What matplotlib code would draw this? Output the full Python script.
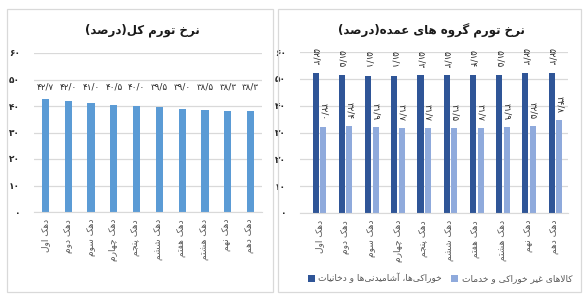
import matplotlib.pyplot as plt
from matplotlib.patches import Rectangle
import numpy as np

# داده ها
deciles = ["دهک اول", "دهک دوم", "دهک سوم", "دهک چهارم", "دهک پنجم",
           "دهک ششم", "دهک هفتم", "دهک هشتم", "دهک نهم", "دهک دهم"]
total_rate = [42.7, 42.0, 41.0, 40.5, 40.0, 39.5, 39.0, 38.5, 38.3, 38.3]
food_rate = [52.3, 51.5, 51.1, 51.1, 51.3, 51.3, 51.4, 51.5, 52.3, 52.3]
nonfood_rate = [32.0, 32.4, 31.9, 31.7, 31.7, 31.5, 31.7, 31.9, 32.5, 34.8]
yticks = [0, 10, 20, 30, 40, 50, 60]

title_left = "نرخ تورم کل(درصد)"
title_right = "نرخ تورم گروه های عمده(درصد)"
label_food = "خوراکی‌ها، آشامیدنی‌ها و دخانیات"
label_nonfood = "کالاهای غیر خوراکی و خدمات"

# شکل حروف: (جدا، پایانی، آغازی، میانی)
FORMS = {
    "ا": (0xFE8D, 0xFE8E), "آ": (0xFE81, 0xFE82),
    "ب": (0xFE8F, 0xFE90, 0xFE91, 0xFE92), "پ": (0xFB56, 0xFB57, 0xFB58, 0xFB59),
    "ت": (0xFE95, 0xFE96, 0xFE97, 0xFE98), "ث": (0xFE99, 0xFE9A, 0xFE9B, 0xFE9C),
    "ج": (0xFE9D, 0xFE9E, 0xFE9F, 0xFEA0), "چ": (0xFB7A, 0xFB7B, 0xFB7C, 0xFB7D),
    "ح": (0xFEA1, 0xFEA2, 0xFEA3, 0xFEA4), "خ": (0xFEA5, 0xFEA6, 0xFEA7, 0xFEA8),
    "د": (0xFEA9, 0xFEAA), "ذ": (0xFEAB, 0xFEAC), "ر": (0xFEAD, 0xFEAE),
    "ز": (0xFEAF, 0xFEB0), "ژ": (0xFB8A, 0xFB8B),
    "س": (0xFEB1, 0xFEB2, 0xFEB3, 0xFEB4), "ش": (0xFEB5, 0xFEB6, 0xFEB7, 0xFEB8),
    "ص": (0xFEB9, 0xFEBA, 0xFEBB, 0xFEBC), "ض": (0xFEBD, 0xFEBE, 0xFEBF, 0xFEC0),
    "ط": (0xFEC1, 0xFEC2, 0xFEC3, 0xFEC4), "ظ": (0xFEC5, 0xFEC6, 0xFEC7, 0xFEC8),
    "ع": (0xFEC9, 0xFECA, 0xFECB, 0xFECC), "غ": (0xFECD, 0xFECE, 0xFECF, 0xFED0),
    "ف": (0xFED1, 0xFED2, 0xFED3, 0xFED4), "ق": (0xFED5, 0xFED6, 0xFED7, 0xFED8),
    "ک": (0xFB8E, 0xFB8F, 0xFB90, 0xFB91), "گ": (0xFB92, 0xFB93, 0xFB94, 0xFB95),
    "ل": (0xFEDD, 0xFEDE, 0xFEDF, 0xFEE0), "م": (0xFEE1, 0xFEE2, 0xFEE3, 0xFEE4),
    "ن": (0xFEE5, 0xFEE6, 0xFEE7, 0xFEE8), "و": (0xFEED, 0xFEEE),
    "ه": (0xFEE9, 0xFEEA, 0xFEEB, 0xFEEC), "ی": (0xFBFC, 0xFBFD, 0xFBFE, 0xFBFF),
}
LAM_ALEF = {"ا": (0xFEFB, 0xFEFC), "آ": (0xFEF5, 0xFEF6)}
MIRROR = {"(": ")", ")": "("}


def fa(text):
    """اتصال حروف فارسی و برگرداندن ترتیب برای نمایش"""
    out = []
    i = 0
    n = len(text)
    while i < n:
        c = text[i]
        if c not in FORMS:
            if c != "\u200c":
                out.append(c)
            i += 1
            continue
        prev = text[i - 1] if i > 0 else ""
        prev_join = prev in FORMS and len(FORMS[prev]) == 4
        if c == "ل" and i + 1 < n and text[i + 1] in LAM_ALEF:
            out.append(chr(LAM_ALEF[text[i + 1]][1 if prev_join else 0]))
            i += 2
            continue
        nxt = text[i + 1] if i + 1 < n else ""
        next_join = len(FORMS[c]) == 4 and nxt in FORMS
        f = FORMS[c]
        if prev_join and next_join:
            out.append(chr(f[3]))
        elif prev_join:
            out.append(chr(f[1]))
        elif next_join:
            out.append(chr(f[2]))
        else:
            out.append(chr(f[0]))
        i += 1
    return "".join(MIRROR.get(ch, ch) for ch in reversed(out))


def fa_num(v, dec=True):
    s = f"{v:.1f}".replace(".", "/") if dec else str(v)
    return s.translate(str.maketrans("0123456789", "۰۱۲۳۴۵۶۷۸۹"))


plt.rcParams["font.family"] = ["DejaVu Sans"]

fig = plt.figure(figsize=(5.88, 3.0), dpi=100)
W, H = 588, 300


def box(x0, y0, x1, y1):
    return [x0 / W, 1 - y1 / H, (x1 - x0) / W, (y1 - y0) / H]


for b in (box(7, 9, 273, 292), box(278, 9, 581, 292)):
    fig.patches.append(Rectangle((b[0], b[1]), b[2], b[3], transform=fig.transFigure,
                                 fill=False, ec="#d9d9d9", lw=0.9))

grid_c = "#d9d9d9"
txt_c = "#595959"
val_c = "#262626"
x = np.arange(len(deciles))


def style(ax):
    for s in ["top", "right", "left"]:
        ax.spines[s].set_visible(False)
    ax.spines["bottom"].set_color(grid_c)
    ax.set_ylim(0, 60)
    ax.set_yticks(yticks)
    ax.set_yticklabels([fa_num(t, False) for t in yticks], fontsize=6.5,
                       color=val_c, fontweight="bold")
    ax.yaxis.grid(True, color=grid_c, lw=0.9)
    ax.set_axisbelow(True)
    ax.tick_params(length=0, pad=10)
    ax.set_xticks(x)
    ax.set_xticklabels([fa(d) for d in deciles], rotation=90, fontsize=6.5,
                       color=txt_c, va="top", ha="center")
    ax.tick_params(axis="x", pad=5)


# نمودار چپ
ax1 = fig.add_axes(box(34, 53, 262, 212))
ax1.bar(x, total_rate, width=0.31, color="#5b9bd5")
style(ax1)
ax1.set_xlim(-0.5, 9.5)
for xi, v in zip(x, total_rate):
    ax1.text(xi, 47, fa_num(v), ha="center", va="center", fontsize=6.3, color=val_c)
fig.text(142 / W, 1 - 30 / H, fa(title_left), ha="center", va="center",
         fontsize=8.5, fontweight="bold", color="#1a1a1a")

# نمودار راست
ax2 = fig.add_axes(box(300, 52, 568, 213))
b1 = ax2.bar(x - 0.145, food_rate, width=0.23, color="#2f5597", label=fa(label_food))
b2 = ax2.bar(x + 0.145, nonfood_rate, width=0.23, color="#8faadc", label=fa(label_nonfood))
style(ax2)
ax2.set_xlim(-0.74, 9.48)
for xi, v in zip(x, food_rate):
    ax2.annotate(fa_num(v), (xi - 0.145, v), xytext=(0, 5.5), textcoords="offset points",
                 rotation=-90, ha="center", va="bottom", fontsize=6.3, color=val_c)
for xi, v in zip(x, nonfood_rate):
    ax2.annotate(fa_num(v), (xi + 0.145, v), xytext=(0, 5), textcoords="offset points",
                 rotation=-90, ha="center", va="bottom", fontsize=6.3, color=val_c)
fig.text(431 / W, 1 - 31 / H, fa(title_right), ha="center", va="center",
         fontsize=8.5, fontweight="bold", color="#1a1a1a")

fig.legend(handles=[b1, b2], loc="center", bbox_to_anchor=(440 / W, 1 - 278 / H),
           ncol=2, frameon=False, fontsize=6.5, handlelength=0.8, handleheight=0.8,
           handletextpad=0.4, columnspacing=1.0, labelcolor=txt_c)

fig.savefig("out.png", dpi=100)
